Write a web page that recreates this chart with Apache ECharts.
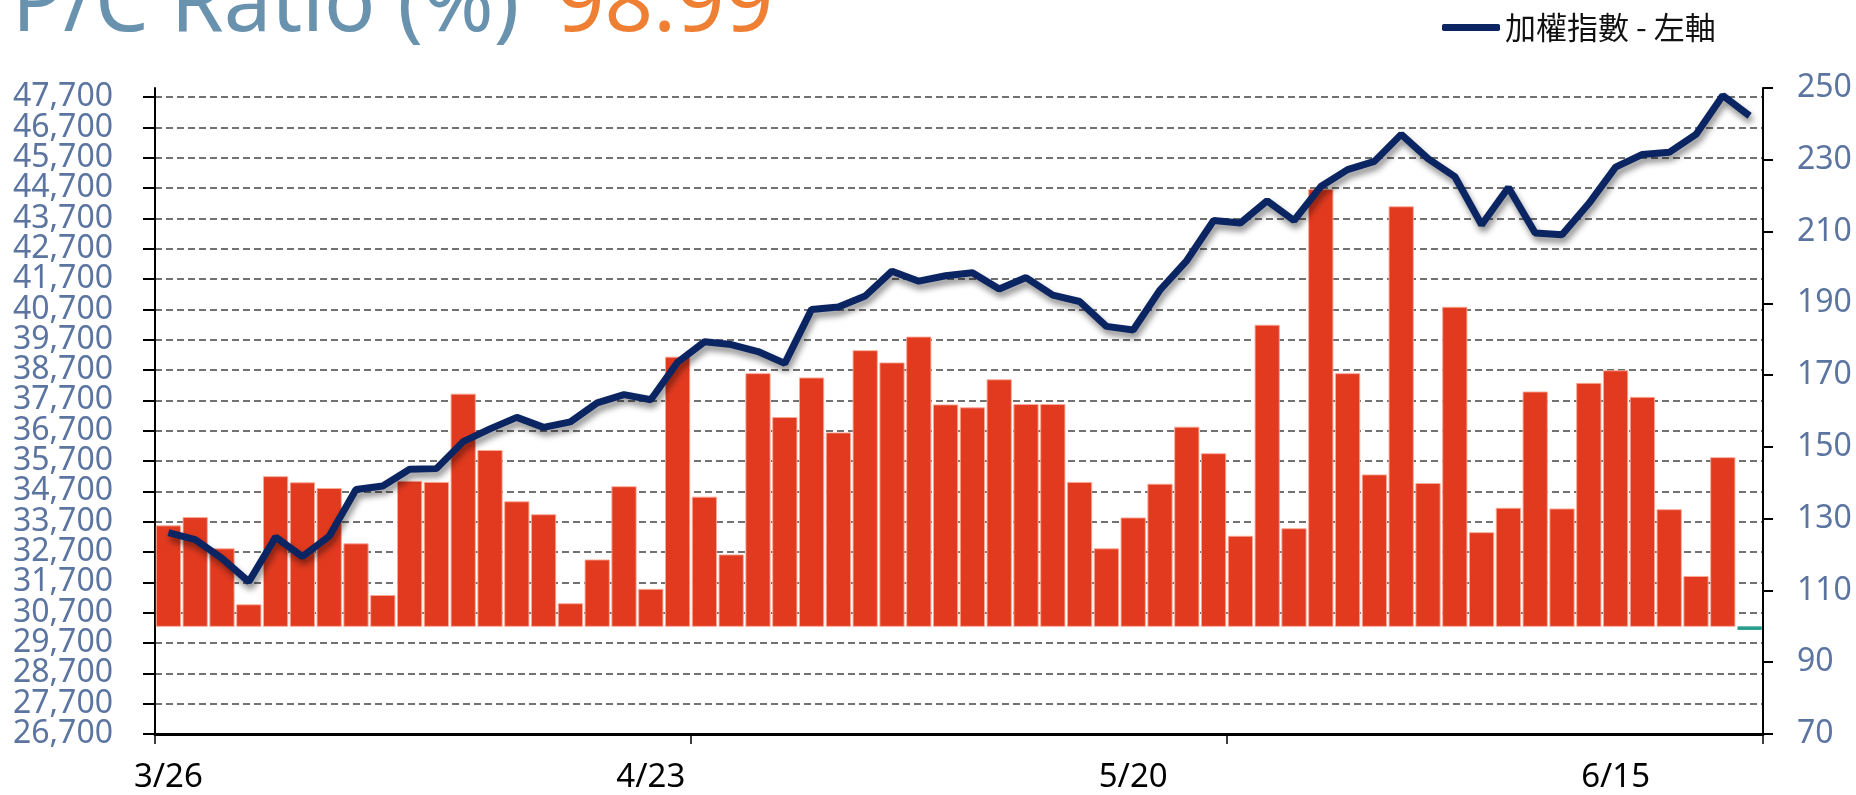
<!DOCTYPE html>
<html>
<head>
<meta charset="utf-8">
<script src="https://cdn.jsdelivr.net/npm/echarts@6/dist/echarts.min.js"></script>
<style>
html,body{margin:0;padding:0;background:#fff;}
#chart{width:1856px;height:795px;}
</style>
</head>
<body>
<div id="chart"></div>
<script>
// ---- data ----
const categories = [
  '3/26','3/27','3/30','3/31','4/1','4/2','4/7','4/8','4/9','4/10',
  '4/13','4/14','4/15','4/16','4/17','4/20','4/21','4/22','4/23','4/24',
  '4/27','4/28','4/29','4/30','5/4','5/5','5/6','5/7','5/8','5/11',
  '5/12','5/13','5/14','5/15','5/18','5/19','5/20','5/21','5/22','5/25',
  '5/26','5/27','5/28','5/29','6/1','6/2','6/3','6/4','6/5','6/8',
  '6/9','6/10','6/11','6/12','6/15','6/16','6/17','6/18','6/22','6/23'
];
const xTickLabels = ['3/26','4/23','5/20','6/15'];
// 加權指數 (left axis)
const indexValues = [
  33340,33110,32490,31720,33190,32550,33220,34760,34880,35430,
  35450,36340,36760,37140,36810,36990,37620,37890,37720,38960,
  39630,39540,39310,38920,40700,40780,41140,41960,41630,41810,
  41910,41370,41750,41170,40960,40140,40020,41340,42310,43630,
  43550,44280,43630,44750,45310,45580,46470,45670,45080,43490,
  44720,43220,43160,44190,45390,45810,45880,46470,47750,47080
];
// P/C Ratio (%) (right axis, bars drawn from 100)
const pcRatio = [
  128.0,130.3,121.6,106.0,141.7,140.0,138.4,123.0,108.6,140.4,
  140.1,164.7,149.0,134.7,131.1,106.3,118.5,138.9,110.3,175.0,
  136.0,119.9,170.4,158.2,169.2,153.9,176.8,173.4,180.6,161.7,
  160.9,168.7,161.8,161.8,140.1,121.6,130.2,139.6,155.5,148.1,
  125.1,183.9,127.2,221.7,170.4,142.2,216.9,139.8,188.9,126.1,
  132.9,165.3,132.7,167.7,171.2,163.8,132.5,113.9,147.0,98.99
];
const pcBase = 100;
const leftTicks = [26700,27700,28700,29700,30700,31700,32700,33700,34700,35700,36700,
  37700,38700,39700,40700,41700,42700,43700,44700,45700,46700,47700];
const rightTicks = [70,90,110,130,150,170,190,210,230,250];
const seriesName = '加權指數 - 左軸';

// ---- chart ----
const chart = echarts.init(document.getElementById('chart'));
const slate = '#5b74a0';
const navy = '#0b2562';
const red = '#e13a1f';
const teal = '#2a9d8f';

// left labels are split over two overlaid axes so that ECharts does not drop tightly packed labels
const leftTicksA = leftTicks.filter((v, i) => i % 2 === 0);
const leftTicksB = leftTicks.filter((v, i) => i % 2 === 1);
const leftLabelStyle = {fontSize: 32, fontFamily: 'Noto Sans', color: slate, margin: 42,
  showMinLabel: true, showMaxLabel: true, formatter: v => v.toLocaleString('en-US')};

const option = {
  animation: false,
  backgroundColor: '#ffffff',
  graphic: [
    {type:'text', left: 12, top: -36, style:{text:'P/C Ratio (%)', fontSize: 85, fontFamily:'Noto Sans', fill:'#6892ad'}},
    {type:'text', left: 556, top: -36, style:{text: pcRatio[pcRatio.length-1].toFixed(2), fontSize: 85, fontFamily:'Noto Sans', fill:'#ee7f33'}}
  ],
  legend: {
    left: 1437, top: 7,
    data: [{name: seriesName, icon: 'roundRect'}],
    itemWidth: 58, itemHeight: 7,
    textStyle: {fontSize: 31, fontFamily: '"Noto Sans CJK TC"', color: '#111'}
  },
  grid: {left: 155, right: 93, top: 88, bottom: 61},
  xAxis: {
    type: 'category', data: categories, boundaryGap: true,
    axisLine: {show: true, lineStyle: {color: '#000', width: 3}},
    axisTick: {show: true, interval: 19, length: 10, lineStyle: {color: '#000', width: 1.5}},
    axisLabel: {
      interval: (i, v) => xTickLabels.indexOf(v) >= 0,
      fontSize: 33, fontFamily: 'Noto Sans', color: '#000', margin: 27
    },
    splitLine: {show: false}
  },
  yAxis: [
    {
      type: 'value', position: 'left', min: 26700, max: 48000,
      axisLine: {show: true, lineStyle: {color: '#000', width: 2}},
      axisTick: {show: true, customValues: leftTicks, length: 12, lineStyle: {color: '#000', width: 2}},
      axisLabel: Object.assign({customValues: leftTicksA}, leftLabelStyle),
      splitLine: {show: true, lineStyle: {color: '#444', width: 1.5, type: [7, 4]}}
    },
    {
      type: 'value', position: 'right', min: 70, max: 250,
      axisLine: {show: true, lineStyle: {color: '#000', width: 2}},
      axisTick: {show: true, customValues: rightTicks, length: 10, lineStyle: {color: '#000', width: 2}},
      axisLabel: {customValues: rightTicks, showMinLabel: true, showMaxLabel: true,
        fontSize: 32, fontFamily: 'Noto Sans', color: slate, margin: 34},
      splitLine: {show: false}
    },
    {
      type: 'value', position: 'left', min: 26700, max: 48000,
      axisLine: {show: false}, axisTick: {show: false},
      axisLabel: Object.assign({customValues: leftTicksB}, leftLabelStyle),
      splitLine: {show: false}
    }
  ],
  series: [
    {
      name: 'P/C Ratio (%)', type: 'custom', yAxisIndex: 1, z: 2,
      encode: {x: 0, y: 1},
      data: pcRatio.map((v, i) => [i, v]),
      renderItem: (params, api) => {
        const i = api.value(0), v = api.value(1);
        const top = api.coord([i, v]);
        const base = api.coord([i, pcBase]);
        const w = api.size([1, 0])[0] * 0.905;
        const up = v >= pcBase;
        return {
          type: 'rect',
          shape: {x: top[0] - w / 2, y: Math.min(top[1], base[1]), width: w, height: Math.abs(base[1] - top[1])},
          style: {fill: up ? red : teal, stroke: up ? 'rgba(250,170,150,0.9)' : null, lineWidth: up ? 1 : 0}
        };
      }
    },
    {
      name: seriesName, type: 'line', yAxisIndex: 0, z: 5,
      data: indexValues, showSymbol: false, symbol: 'none',
      itemStyle: {color: navy},
      lineStyle: {color: navy, width: 7, shadowColor: 'rgba(0,0,0,0.45)', shadowBlur: 6, shadowOffsetX: 2, shadowOffsetY: 5}
    }
  ]
};
chart.setOption(option);
</script>
</body>
</html>
